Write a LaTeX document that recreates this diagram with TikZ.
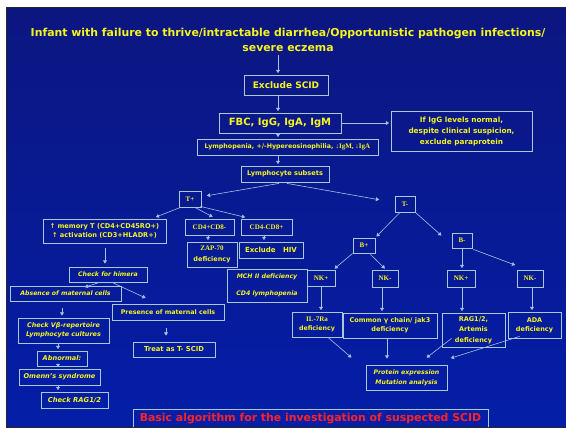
\documentclass[tikz,border=0pt]{standalone}
\usepackage{fontspec}
\setmainfont{DejaVu Sans}
\newfontfamily\sr{Liberation Serif}
\usetikzlibrary{arrows.meta,calc}
\definecolor{txt}{RGB}{245,245,30}
\definecolor{bord}{RGB}{170,200,215}
\definecolor{ln}{RGB}{165,195,225}
\definecolor{bgtop}{RGB}{12,22,128}
\definecolor{bgbot}{RGB}{4,30,168}
\definecolor{redt}{RGB}{255,35,35}
\newcommand\fs[2]{\fontsize{#1}{#2}\selectfont}
\begin{document}
\begin{tikzpicture}[x=1pt,y=-1pt,
  bx/.style={draw=bord,line width=0.8pt,text=txt,inner sep=0pt,align=center,font=\bfseries\fs{6.3}{9}},
  srf/.style={font=\sr\bfseries\fs{7}{9}},
  itl/.style={font=\bfseries\itshape\fs{6.2}{9}},
  arr/.style={draw=ln,line width=0.6pt,-{Triangle[width=3.8pt,length=3.2pt]},shorten >=1.5pt},
]
% background slide
\fill[white] (0,0) rectangle (566,428);
\fill[black!85] (6,7) rectangle (566,428);
\shade[top color=bgtop,bottom color=bgbot] (7.5,8.5) rectangle (566,426.5);
\useasboundingbox (0,0) rectangle (566,428);

% x positions of vertical connectors
\coordinate (ax) at (278,0);
\coordinate (x208) at (208,0);
\coordinate (x264) at (264,0);
\coordinate (x462) at (462,0);
\coordinate (x321) at (321,0);
\coordinate (x382) at (382,0);
\coordinate (x532) at (532,0);
\coordinate (x387) at (387,0);
\coordinate (x105) at (105,0);
\coordinate (x166) at (166,0);
\coordinate (x62) at (62,0);
\coordinate (x58) at (58,0);

% title
\node[text=txt,font=\bfseries\fs{10.9}{15.5},align=center,inner sep=0pt] (title) at (288,40)
  {Infant with failure to thrive/intractable diarrhea/Opportunistic pathogen infections/\\severe eczema};

% main column
\node[bx,minimum width=84,minimum height=20,font=\bfseries\fs{9}{11}] (excl) at (286,85) {Exclude SCID};
\node[bx,minimum width=122,minimum height=20,font=\bfseries\fs{10}{12}] (fbc) at (280,123) {FBC, IgG, IgA, IgM};
\node[bx,minimum width=141,minimum height=40,font=\bfseries\fs{7.3}{11}] (igg) at (461.5,131)
  {If IgG levels normal,\\despite clinical suspicion,\\exclude paraprotein};
\node[bx,minimum width=181,minimum height=16,font=\bfseries\fs{6.3}{7}] (lym) at (287.5,147)
  {Lymphopenia, +/-Hypereosinophilia, {\sr\fs{7}{7}↓IgM, ↓IgA}};
\node[bx,minimum width=88,minimum height=16,font=\bfseries\fs{6.6}{8}] (sub) at (285,174) {Lymphocyte subsets};

% T branches
\node[bx,srf,minimum width=22,minimum height=16] (tp) at (190,199) {T+};
\node[bx,srf,minimum width=20,minimum height=16] (tm) at (405,204) {T-};

\node[bx,minimum width=123,minimum height=24,font=\bfseries\fs{6.6}{9}] (mem) at (104.5,231)
  {↑ memory T (CD4+CD45RO+)\\↑ activation (CD3+HLADR+)};
\node[bx,srf,minimum width=49,minimum height=16] (cd4p) at (209.5,227) {CD4+CD8-};
\node[bx,srf,minimum width=51,minimum height=16] (cd8p) at (266.5,227) {CD4-CD8+};
\node[bx,minimum width=50,minimum height=25,font=\bfseries\fs{6.5}{11}] (zap) at (212,254.5) {{\sr\fs{7}{11}ZAP-70}\\deficiency};
\node[bx,minimum width=64,minimum height=16,font=\bfseries\fs{7}{9}] (hiv) at (271,250) {Exclude\ \ \ HIV};
\node[bx,itl,minimum width=80,minimum height=33,font=\bfseries\itshape\fs{6.2}{17}] (mch) at (267,285.5)
  {MCH II deficiency\\CD4 lymphopenia};

\node[bx,srf,minimum width=22,minimum height=15] (bp) at (364,245.5) {B+};
\node[bx,srf,minimum width=20,minimum height=15] (bm) at (462,240.5) {B-};
\node[bx,srf,minimum width=28,minimum height=16] (nk1) at (321,278) {NK+};
\node[bx,srf,minimum width=26,minimum height=17] (nk2) at (385,278.5) {NK-};
\node[bx,srf,minimum width=28,minimum height=17] (nk3) at (461,278.5) {NK+};
\node[bx,srf,minimum width=26,minimum height=17] (nk4) at (530,278.5) {NK-};

\node[bx,minimum width=50,minimum height=25,font=\bfseries\fs{6.3}{9}] (il7) at (317,324.5) {{\sr\fs{7}{9}IL-7Ra}\\deficiency};
\node[bx,minimum width=94,minimum height=25,font=\bfseries\fs{6.5}{9}] (gam) at (390,325.5) {Common γ chain/ jak3\\deficiency};
\node[bx,minimum width=63,minimum height=34,font=\bfseries\fs{6.5}{10.5}] (rag) at (473.5,330) {RAG1/2,\\Artemis\\deficiency};
\node[bx,minimum width=53,minimum height=26,font=\bfseries\fs{6.5}{9}] (ada) at (534.5,325) {ADA\\deficiency};
\node[bx,itl,minimum width=81,minimum height=25,font=\bfseries\itshape\fs{6.2}{10}] (prot) at (406.5,377.5)
  {Protein expression\\Mutation analysis};

% left column
\node[bx,itl,minimum width=78,minimum height=15] (him) at (108,274.5) {Check for himera};
\node[bx,itl,minimum width=111,minimum height=15] (abs) at (65.5,293.5) {Absence of maternal cells};
\node[bx,minimum width=112,minimum height=16] (pres) at (168,312) {Presence of maternal cells};
\node[bx,minimum width=82,minimum height=15,font=\bfseries\fs{6.8}{9}] (treat) at (174,349.5) {Treat as T- SCID};
\node[bx,itl,minimum width=91,minimum height=25,font=\bfseries\itshape\fs{6.4}{9}] (vb) at (63.5,330.5)
  {Check Vβ-repertoire\\Lymphocyte cultures};
\node[bx,itl,minimum width=50,minimum height=15,font=\bfseries\itshape\fs{6.6}{9}] (abn) at (62,358.5) {Abnormal:};
\node[bx,itl,minimum width=81,minimum height=16,font=\bfseries\itshape\fs{6.6}{9}] (om) at (59.5,377) {Omenn's syndrome};
\node[bx,itl,minimum width=67,minimum height=16,font=\bfseries\itshape\fs{6.8}{9}] (r12) at (74.5,400) {Check RAG1/2};

% banner
\node[text=redt,font=\bfseries\fs{10.9}{13},inner sep=0pt] (ban) at (310.5,418.5)
  {Basic algorithm for the investigation of suspected SCID};
\draw[bord,line width=0.9pt] (133,426.5) |- (488,409) -- (488,426.5);

% connectors
\draw[arr,shorten <=3pt] (title.south -| ax) -- (excl.north -| ax);
\draw[arr] (excl.south -| ax) -- (fbc.north -| ax);
\draw[arr] (fbc.east) -- (fbc.east -| igg.west);
\draw[arr] (fbc.south -| ax) -- (lym.north -| ax);
\draw[arr] (lym.south -| ax) -- (sub.north -| ax);
\draw[arr] ($(sub.south)+(-6,1)$) -- ($(tp.east)+(4,-3)$);
\draw[arr] ($(sub.south)+(2,1)$) -- ($(tm.west)+(-14,-4)$);

\draw[arr] ($(tp.south west)+(2,0)$) -- ($(mem.north east)+(-12,-1)$);
\draw[arr] ($(tp.south)+(5,0)$) -- ($(cd4p.north)+(4.5,-1)$);
\draw[arr] ($(tp.south east)+(-1,-1)$) -- ($(cd8p.north west)+(6,-1)$);
\draw[arr] (cd4p.south -| x208) -- (zap.north -| x208);
\draw[arr] (cd8p.south -| x264) -- (hiv.north -| x264);

\draw[arr] ($(tm.south)+(-5,0)$) -- (bp.north east);
\draw[arr] (tm.south east) -- ($(bm.north west)+(-9,4)$);
\draw[arr] (bp.south west) -- ($(nk1.north east)+(-2,0)$);
\draw[arr] ($(bp.south east)+(-5,1)$) -- ($(nk2.north)+(1,0)$);
\draw[arr] (bm.south -| x462) -- (nk3.north -| x462);
\draw[arr] ($(bm.south east)+(1,1)$) -- ($(nk4.north west)+(0,-4)$);

\draw[arr] (nk1.south -| x321) -- (il7.north -| x321);
\draw[arr] (nk2.south -| x382) -- (gam.north -| x382);
\draw[arr] (nk3.south -| x462) -- (rag.north -| x462);
\draw[arr] (nk4.south -| x532) -- (ada.north -| x532);

\draw[arr] ($(il7.south)+(11,0)$) -- ($(prot.north west)+(-13,-6)$);
\draw[arr,shorten >=6pt] (gam.south -| x387) -- (prot.north -| x387);
\draw[arr] ($(rag.south west)+(10,-9)$) -- ($(prot.north east)+(-22,-6)$);
\draw[arr] ($(ada.south west)+(12,-2)$) -- ($(prot.north east)+(2,-6)$);

\draw[arr,shorten <=5pt,shorten >=3pt] (mem.south -| x105) -- (him.north -| x105);
\draw[arr] ($(him.south)+(-10,0.5)$) -- ($(abs.north east)+(-38,2)$);
\draw[arr] ($(him.south)+(5,0.5)$) -- ($(pres.north)+(-21,-5)$);
\draw[arr,shorten <=8pt,shorten >=6pt] (pres.south -| x166) -- (treat.north -| x166);
\draw[arr,shorten <=7pt,shorten >=2pt] (abs.south -| x62) -- (vb.north -| x62);
\draw[arr] (vb.south -| x58) -- (abn.north -| x58);
\draw[arr] (abn.south -| x58) -- (om.north -| x58);
\draw[arr] (om.south -| x58) -- (r12.north -| x58);
\end{tikzpicture}
\end{document}
